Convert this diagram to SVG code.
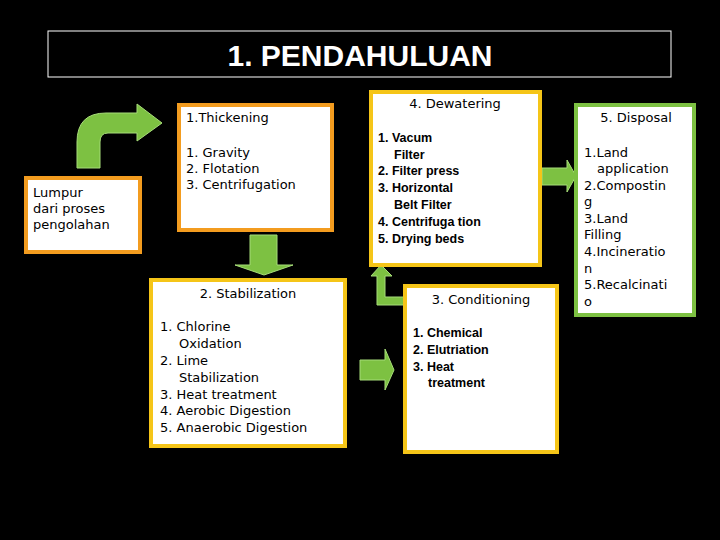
<svg xmlns="http://www.w3.org/2000/svg" width="720" height="540" viewBox="0 0 720 540">
<style>
.box{fill:#fff;stroke-width:4}
.or{stroke:#f39c1f}.ye{stroke:#f5c518}.gr{stroke:#7dc142}
.v{font-family:"DejaVu Sans",Verdana,sans-serif;font-size:13px;fill:#000}
.b{font-family:"Liberation Sans",Arial,sans-serif;font-size:12.5px;font-weight:bold;fill:#000}
.c{text-anchor:middle}
.arr{fill:#7dc142;stroke:#a6dc78;stroke-width:1}
</style>
<rect width="720" height="540" fill="#000"/>
<g id="title"><rect x="48" y="31" width="623" height="46" fill="#000" stroke="#fff" stroke-width="1"/>
<text x="360" y="66" text-anchor="middle" font-family="Liberation Sans,Arial,sans-serif" font-size="30" font-weight="bold" fill="#fff">1. PENDAHULUAN</text></g>
<g id="connectors">
<path class="arr" d="M77,168 L77,142 Q77,113 106,113 L137,113 L137,104 L162,123 L137,141 L137,133 L108,133 Q100,133 100,142 L100,168 Z"/>
<path class="arr" d="M250,235 L277,235 L277,265 L293,265 L264,275 L235,265 L250,265 Z"/>
<path class="arr" d="M542,168 L567,168 L567,160 L576,176 L567,192 L567,185 L542,185 Z"/>
<path class="arr" d="M360,360 L385,360 L385,349 L394,370 L385,390 L385,380 L360,380 Z"/>
<path class="arr" d="M377,305 L377,276 L371,276 L381,265 L392,276 L385,276 L385,297 L410,297 L410,305 Z"/>
</g>
<g id="lumpur"><rect class="box or" x="26" y="178" width="114" height="74"/>
<text class="v" x="33" y="197">Lumpur</text><text class="v" x="33" y="213">dari proses</text><text class="v" x="33" y="229">pengolahan</text></g>
<g id="thickening"><rect class="box or" x="179" y="105" width="153" height="125"/>
<text class="v" x="186" y="122">1.Thickening</text>
<text class="v" x="186" y="157">1. Gravity</text><text class="v" x="186" y="173">2. Flotation</text><text class="v" x="186" y="189">3. Centrifugation</text></g>
<g id="stabilization"><rect class="box ye" x="151" y="280" width="194" height="166"/>
<text class="v c" x="248" y="298">2. Stabilization</text>
<text class="v" x="160" y="331">1. Chlorine</text><text class="v" x="179" y="348">Oxidation</text>
<text class="v" x="160" y="365">2. Lime</text><text class="v" x="179" y="382">Stabilization</text>
<text class="v" x="160" y="399">3. Heat  treatment</text><text class="v" x="160" y="415">4. Aerobic  Digestion</text><text class="v" x="160" y="432">5. Anaerobic Digestion</text></g>
<g id="dewatering"><rect class="box ye" x="371" y="92" width="169" height="173"/>
<text class="v c" x="455" y="108">4. Dewatering</text>
<text class="b" x="378" y="142">1. Vacum</text><text class="b" x="394" y="159">Filter</text>
<text class="b" x="378" y="175">2. Filter press</text><text class="b" x="378" y="192">3. Horizontal</text>
<text class="b" x="394" y="209">Belt Filter</text><text class="b" x="378" y="226">4. Centrifuga tion</text><text class="b" x="378" y="243">5. Drying beds</text></g>
<g id="conditioning"><rect class="box ye" x="405" y="286" width="152" height="166"/>
<text class="v c" x="481" y="304">3. Conditioning</text>
<text class="b" x="413" y="337">1. Chemical</text><text class="b" x="413" y="354">2. Elutriation</text>
<text class="b" x="413" y="371">3. Heat</text><text class="b" x="428" y="387">treatment</text></g>
<g id="disposal"><rect class="box gr" x="576" y="105" width="118" height="210"/>
<text class="v c" x="636" y="122">5. Disposal</text>
<text class="v" x="584" y="157">1.Land</text><text class="v" x="597" y="173">application</text>
<text class="v" x="584" y="190">2.Compostin</text><text class="v" x="584" y="206">g</text>
<text class="v" x="584" y="223">3.Land</text><text class="v" x="584" y="239">Filling</text>
<text class="v" x="584" y="256">4.Incineratio</text><text class="v" x="584" y="273">n</text>
<text class="v" x="584" y="289">5.Recalcinati</text><text class="v" x="584" y="306">o</text></g>
</svg>
